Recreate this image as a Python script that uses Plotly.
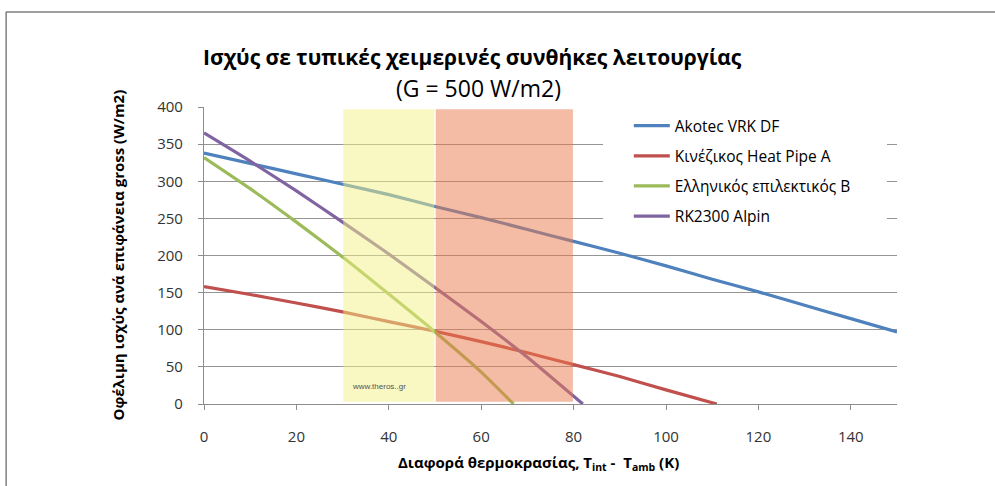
import plotly.graph_objects as go

# ---- data ----
akotec_x = [0, 10, 20, 30, 40, 50, 60, 70, 80, 90, 100, 110, 120, 130, 140, 150]
akotec_y = [338, 324, 310, 296, 282, 266, 251, 235, 219, 203, 186, 168, 151, 133, 115, 97]

chinese_x = [0, 10, 20, 30, 40, 50, 60, 70, 80, 90, 100, 111]
chinese_y = [158, 147.5, 136, 124, 111, 98, 84, 69, 53, 37, 19, 0]

greek_x = [0, 10, 20, 30, 40, 50, 60, 67]
greek_y = [332, 290, 245, 198, 148, 97, 43, 0]

rk_x = [0, 10, 20, 30, 40, 50, 60, 70, 82]
rk_y = [365, 327, 287, 245, 202, 157, 111, 63, 0]

series_names = ["Akotec VRK DF", "Κινέζικος Heat Pipe A", "Ελληνικός επιλεκτικός B", "RK2300 Alpin"]
series_colors = ["#4F81BD", "#C0504D", "#9BBB59", "#8064A2"]

# shaded temperature bands (x start, x end, top value)
band_x0 = [30, 50]
band_x1 = [50, 80]
band_top = [397, 397]
band_colors = ["#F3EF85", "#EB794B"]

title_text = "Ισχύς σε τυπικές χειμερινές συνθήκες λειτουργίας"
subtitle_text = "(G = 500 W/m2)"
xtitle = "Διαφορά θερμοκρασίας, T<sub>int</sub> -  T<sub>amb</sub> (K)"
ytitle = "Οφέλιμη ισχύς ανά επιφάνεια gross (W/m2)"
watermark = "www.theros..gr"

FONT = "Open Sans"

fig = go.Figure()
all_x = [akotec_x, chinese_x, greek_x, rk_x]
all_y = [akotec_y, chinese_y, greek_y, rk_y]
for i, (xs, ys) in enumerate(zip(all_x, all_y)):
    fig.add_trace(go.Scatter(
        x=xs, y=ys, mode="lines", name=series_names[i],
        line=dict(color=series_colors[i], width=3.2, shape="spline", smoothing=0.5),
        legendgroup="g%d" % i,
    ))

shapes = []
for x0, x1, top, c in zip(band_x0, band_x1, band_top, band_colors):
    shapes.append(dict(type="rect", xref="x", yref="y", x0=x0 + 0.15, x1=x1 - 0.15,
                       y0=3, y1=top, fillcolor=c, opacity=0.5,
                       line=dict(width=0), layer="above"))
# white box behind legend (covers gridlines)
shapes.append(dict(type="rect", xref="paper", yref="paper", x0=0.5758, x1=0.9856,
                   y0=0.599, y1=0.99, fillcolor="white", line=dict(width=0), layer="above"))
# outer frame (top and left edges visible)
shapes.append(dict(type="line", xref="paper", yref="paper", x0=-0.286, x1=1.2,
                   y0=1.3199, y1=1.3199, line=dict(color="#7F7F7F", width=1.5)))
shapes.append(dict(type="line", xref="paper", yref="paper", x0=-0.2855, x1=-0.2855,
                   y0=-0.3, y1=1.3199, line=dict(color="#7F7F7F", width=1.5)))

annotations = [
    dict(text="<b>" + title_text + "</b>", xref="paper", yref="paper", x=0.3875, y=1.168,
         xanchor="center", yanchor="middle", showarrow=False,
         font=dict(family=FONT, size=21, color="#000000")),
    dict(text=subtitle_text, xref="paper", yref="paper", x=0.396, y=1.064,
         xanchor="center", yanchor="middle", showarrow=False,
         font=dict(family=FONT, size=23, color="#000000")),
    dict(text="<b>" + xtitle + "</b>", xref="paper", yref="paper", x=0.482, y=-0.1987,
         xanchor="center", yanchor="middle", showarrow=False,
         font=dict(family=FONT, size=15, color="#000000")),
    dict(text="<b>" + ytitle + "</b>", xref="paper", yref="paper", x=-0.1255, y=0.5,
         xanchor="center", yanchor="middle", showarrow=False, textangle=-90,
         font=dict(family=FONT, size=15, color="#000000")),
    dict(text=watermark, xref="paper", yref="paper", x=0.2107, y=0.0606,
         xanchor="left", yanchor="middle", showarrow=False,
         font=dict(family="Liberation Sans", size=8, color="#555555")),
]

fig.update_layout(
    width=995, height=486,
    margin=dict(l=204, r=98, t=107, b=82),
    paper_bgcolor="white", plot_bgcolor="white",
    showlegend=True,
    legend=dict(x=0.613, y=0.993, xanchor="left", yanchor="top",
                bgcolor="rgba(255,255,255,0)", borderwidth=0,
                traceorder="grouped", tracegroupgap=7, itemwidth=36,
                font=dict(family=FONT, size=15.5, color="#000000")),
    shapes=shapes,
    annotations=annotations,
    font=dict(family=FONT),
)
fig.update_xaxes(range=[0, 150], dtick=20, tick0=0, showgrid=False, zeroline=False,
                 showline=True, linecolor="#8C8C8C", linewidth=1.2,
                 ticks="outside", ticklen=5, tickcolor="#8C8C8C",
                 ticklabelstandoff=14,
                 tickfont=dict(family=FONT, size=15, color="#333333"))
fig.update_yaxes(range=[0, 400], dtick=50, tick0=0, showgrid=True, gridcolor="#949494",
                 gridwidth=1, zeroline=False,
                 showline=True, linecolor="#8C8C8C", linewidth=1.2,
                 ticks="outside", ticklen=5, tickcolor="#8C8C8C",
                 ticklabelstandoff=12,
                 tickfont=dict(family=FONT, size=15, color="#333333"))

fig.write_html("out.html", config={"displayModeBar": False},
               post_script="document.body.style.margin='0px';")
